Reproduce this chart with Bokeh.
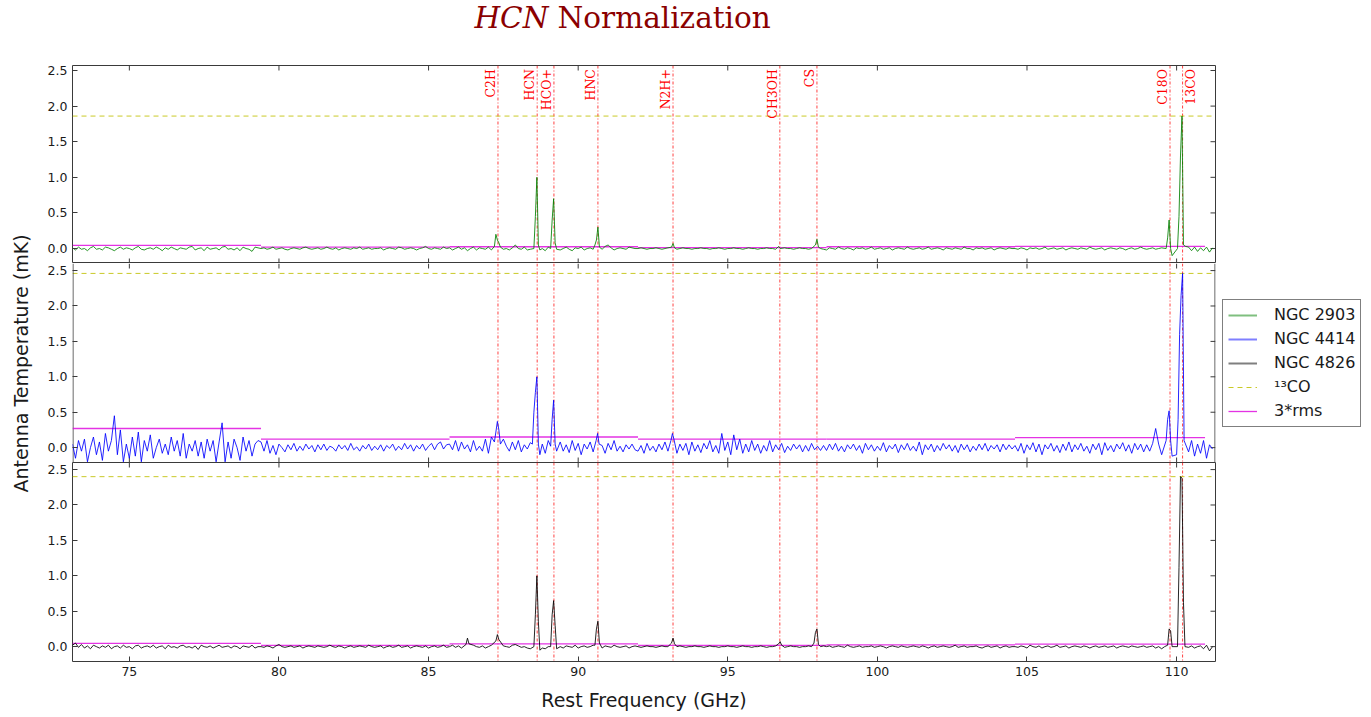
import numpy as np
from bokeh.plotting import figure
from bokeh.layouts import column, row
from bokeh.models import (Span, Legend, LegendItem, FixedTicker, PrintfTickFormatter, Range1d)
from bokeh.embed import file_html
from bokeh.resources import INLINE
from bokeh.core.properties import value

# ---------------- data ----------------
galaxies = ["NGC 2903", "NGC 4414", "NGC 4826"]
colors = ["#008000", "#0000ff", "#000000"]

line_names = ["C2H", "HCN", "HCO+", "HNC", "N2H+", "CH3OH", "CS", "C18O", "13CO"]
line_freqs = [87.32, 88.63, 89.19, 90.66, 93.17, 96.74, 97.98, 109.78, 110.20]
label_side = ["left", "left", "left", "left", "left", "left", "left", "left", "right"]

x_ticks = [75, 80, 85, 90, 95, 100, 105, 110]
y_ticks = [0.0, 0.5, 1.0, 1.5, 2.0, 2.5]

window_start = [73.1, 79.4, 85.7, 92.0, 98.3, 104.6]
window_end = [79.4, 85.7, 92.0, 98.3, 104.6, 110.95]

rms3_2903 = [0.045, 0.02, 0.025, 0.012, 0.025, 0.03]
rms3_4414 = [0.27, 0.12, 0.15, 0.12, 0.12, 0.14]
rms3_4826 = [0.045, 0.018, 0.04, 0.018, 0.025, 0.035]

co13_peak = [1.86, 2.46, 2.40]

# baseline channels (0.1 GHz) from 73.1 to 111.2 GHz
base_2903 = [
    0.01,-0.02,0.02,-0.01,0.00,-0.03,0.01,0.03,-0.01,0.00,
    -0.02,0.02,0.01,-0.01,-0.03,0.00,0.02,-0.01,0.01,0.00,
    -0.02,0.01,0.03,-0.01,-0.02,0.00,0.01,-0.01,0.02,0.00,
    -0.03,0.01,-0.01,0.02,0.00,-0.02,0.01,0.00,-0.01,0.02,
    0.03,-0.02,0.00,0.01,-0.03,0.02,-0.01,0.00,0.01,-0.02,
    0.02,0.03,-0.01,0.00,-0.02,0.01,-0.03,0.02,0.00,-0.01,
    -0.04,0.02,0.01,
    0.00,0.01,-0.01,0.00,0.02,-0.01,0.00,0.01,-0.01,-0.02,
    0.00,0.01,0.00,-0.01,0.01,0.02,0.00,-0.01,0.00,0.01,
    -0.01,0.00,0.02,0.00,-0.01,0.01,-0.02,0.00,0.01,0.00,
    -0.01,0.01,0.00,0.02,-0.01,0.00,0.01,-0.01,0.00,0.00,
    0.01,-0.02,0.00,0.01,0.00,-0.01,0.02,0.01,-0.01,0.00,
    0.01,0.00,-0.02,0.00,0.01,0.03,0.00,-0.01,0.01,0.00,
    -0.01,0.02,0.00,
    0.01,-0.02,0.00,0.02,-0.01,0.01,-0.03,0.00,0.02,-0.02,
    0.01,0.00,-0.01,0.02,-0.02,0.01,0.00,0.03,-0.01,0.00,
    -0.02,0.01,0.05,0.00,-0.01,0.02,-0.02,-0.01,0.00,-0.04,
    0.01,0.00,-0.03,0.02,-0.01,0.00,0.01,-0.02,0.00,0.02,
    -0.01,-0.03,0.01,0.00,0.02,-0.02,0.00,0.01,-0.01,0.02,
    0.00,-0.01,0.03,0.05,0.01,-0.02,0.00,0.01,0.00,-0.01,
    0.02,0.01,0.00,
    0.00,0.01,0.00,-0.01,0.00,0.00,0.01,0.00,-0.01,0.00,
    0.01,0.00,0.00,-0.01,0.00,0.01,0.00,0.00,-0.01,0.00,
    0.00,0.01,0.00,0.00,-0.01,0.00,0.00,0.01,0.00,-0.01,
    0.00,0.00,0.01,0.00,0.00,-0.01,0.00,0.01,0.00,0.00,
    -0.01,0.00,0.00,0.01,0.00,0.00,-0.01,0.00,0.00,0.01,
    0.00,0.00,-0.01,0.00,0.01,0.00,0.00,-0.01,0.00,0.00,
    0.01,0.00,-0.01,
    -0.02,0.01,0.00,-0.01,0.02,0.00,-0.01,0.01,0.00,-0.02,
    0.01,0.00,0.01,-0.01,0.00,0.02,-0.01,0.00,0.01,-0.01,
    0.00,0.01,-0.02,0.00,0.01,0.00,-0.01,0.02,0.00,-0.01,
    0.00,0.01,-0.01,0.00,0.02,-0.01,0.00,0.01,0.00,-0.02,
    0.01,0.00,-0.01,0.01,0.00,-0.01,0.02,0.00,0.00,-0.02,
    0.01,0.00,0.01,-0.01,0.00,0.01,-0.02,0.00,0.01,0.00,
    -0.01,0.01,0.00,
    0.00,-0.01,0.01,0.00,-0.02,0.01,0.00,0.01,-0.01,0.00,
    0.02,-0.01,0.00,0.01,-0.01,0.00,0.01,-0.02,0.00,0.01,
    0.00,-0.01,0.01,0.00,-0.01,0.02,0.00,-0.01,0.00,0.01,
    -0.02,0.00,0.01,0.00,-0.01,0.01,0.00,-0.02,0.00,0.01,
    -0.01,0.00,0.02,0.00,-0.01,0.00,0.01,-0.01,0.00,0.01,
    -0.02,0.00,-0.06,-0.02,-0.05,0.01,-0.03,0.03,0.02,-0.03,
    0.02,-0.04,0.01,-0.03,0.02,-0.05,0.01,
]

base_4414 = [
    0.05,-0.15,0.10,-0.05,0.12,-0.20,0.00,0.15,-0.10,0.08,
    -0.18,0.20,-0.05,0.10,0.45,-0.10,0.25,-0.20,0.05,-0.15,
    0.15,-0.12,0.22,-0.20,0.10,-0.05,0.18,-0.15,0.00,0.12,
    -0.08,0.05,-0.10,0.15,-0.05,0.10,-0.12,0.20,-0.15,0.05,
    -0.05,0.10,-0.12,0.08,-0.15,0.12,-0.05,0.10,-0.20,0.08,
    0.35,-0.20,0.08,-0.15,0.12,0.00,-0.18,0.15,-0.05,0.10,
    -0.12,0.05,0.10,
    0.08,-0.05,0.10,-0.08,0.03,-0.10,0.05,0.00,-0.06,0.04,
    -0.03,0.06,-0.05,0.02,-0.04,0.05,-0.02,0.03,-0.06,0.04,
    -0.03,0.05,-0.04,0.02,0.00,-0.05,0.04,-0.02,0.03,-0.04,
    0.06,-0.03,0.01,-0.05,0.03,-0.02,0.05,-0.04,0.02,-0.03,
    0.04,-0.05,0.03,-0.01,0.05,-0.04,0.02,-0.03,0.06,-0.02,
    0.04,-0.05,0.03,-0.02,0.05,-0.04,0.02,0.06,-0.03,0.05,
    0.08,-0.02,0.04,
    0.05,-0.03,0.10,-0.05,0.08,-0.02,0.04,-0.06,0.10,-0.04,
    0.02,-0.05,0.12,-0.08,0.15,-0.10,0.06,-0.04,0.12,0.02,
    -0.05,0.08,-0.03,0.10,-0.06,0.04,-0.02,0.07,-0.05,0.03,
    -0.12,0.05,-0.08,0.10,-0.03,0.06,-0.10,0.08,-0.05,0.04,
    -0.07,0.10,-0.04,0.06,-0.10,0.05,-0.02,0.08,-0.06,0.12,
    -0.04,0.03,-0.08,0.06,-0.03,0.10,-0.05,0.02,-0.06,0.04,
    -0.02,0.05,-0.03,
    -0.05,0.03,-0.08,0.06,-0.04,0.02,-0.06,0.05,-0.03,0.08,
    -0.05,0.10,0.00,-0.08,0.05,-0.04,0.06,-0.10,0.08,-0.05,
    0.04,-0.07,0.06,-0.02,0.10,-0.06,0.03,-0.08,0.20,-0.04,
    0.08,-0.10,0.18,-0.03,0.12,-0.08,0.05,-0.06,0.10,-0.04,
    0.05,-0.08,0.03,-0.05,0.10,-0.06,0.04,-0.03,0.06,-0.07,
    0.02,-0.04,0.05,-0.02,0.04,-0.06,0.03,-0.05,0.06,-0.03,
    0.02,-0.04,0.03,
    -0.04,0.05,-0.03,0.06,-0.05,0.02,-0.06,0.04,-0.02,0.05,
    -0.04,0.03,-0.08,0.06,-0.03,0.04,-0.05,0.02,-0.04,0.07,
    -0.06,0.03,-0.02,0.05,-0.07,0.04,-0.03,0.06,-0.04,0.02,
    -0.05,0.08,-0.10,0.04,-0.03,0.05,-0.06,0.03,-0.04,0.06,
    -0.02,0.04,-0.05,0.03,-0.07,0.05,-0.03,0.04,-0.06,0.02,
    -0.04,0.05,-0.03,0.06,-0.05,0.03,-0.02,0.04,-0.06,0.05,
    -0.03,0.04,-0.02,
    0.03,-0.05,0.06,-0.08,0.04,-0.03,0.07,-0.06,0.05,-0.10,
    0.04,-0.02,0.06,-0.05,0.03,-0.07,0.05,-0.04,0.08,-0.06,
    0.04,-0.03,0.06,-0.05,0.02,-0.08,0.05,-0.03,0.06,-0.10,
    0.07,-0.04,0.03,-0.06,0.05,-0.02,0.07,-0.05,0.04,-0.08,
    0.06,-0.03,0.05,-0.06,0.04,-0.05,0.06,0.27,0.05,-0.10,
    0.00,0.02,-0.05,-0.15,0.00,0.03,-0.08,0.08,-0.06,0.10,
    -0.12,0.05,-0.08,0.10,-0.15,0.04,-0.02,
]

base_4826 = [
    0.02,0.05,-0.01,0.03,-0.02,0.01,-0.03,0.02,0.00,-0.02,
    0.01,-0.01,0.02,-0.03,0.00,0.01,-0.02,0.02,-0.01,0.00,
    -0.03,0.01,0.02,-0.02,0.00,0.01,-0.01,0.02,-0.02,0.00,
    0.01,-0.03,0.02,-0.01,0.00,-0.02,0.01,0.02,-0.01,0.00,
    -0.02,0.01,-0.04,0.02,0.00,-0.01,0.01,-0.02,0.00,0.02,
    -0.01,0.00,0.01,-0.02,0.01,0.00,-0.03,0.01,0.00,-0.01,
    0.02,-0.02,0.00,
    0.00,-0.01,0.01,0.00,-0.02,0.01,0.03,0.00,-0.01,0.00,
    0.01,-0.01,0.00,0.01,-0.02,0.00,0.01,0.00,-0.01,0.01,
    0.00,-0.01,0.00,0.02,0.00,-0.01,0.01,0.00,-0.02,0.00,
    0.01,-0.01,0.00,0.01,0.00,-0.01,0.02,0.00,-0.01,0.00,
    0.01,-0.02,0.00,0.01,-0.01,0.00,0.02,-0.01,0.00,0.01,
    -0.02,0.00,0.01,0.00,-0.01,0.01,-0.02,0.00,0.01,-0.01,
    0.00,0.02,-0.01,
    0.00,0.02,-0.01,0.01,-0.02,0.00,0.01,-0.03,0.02,0.00,
    -0.01,0.01,-0.02,0.00,0.02,-0.01,0.00,-0.02,0.01,0.00,
    -0.01,0.02,0.03,0.01,-0.01,0.00,-0.02,-0.03,0.00,-0.04,
    0.01,-0.02,-0.03,0.00,0.01,-0.02,0.01,0.00,-0.02,0.01,
    0.00,-0.01,0.02,-0.02,0.00,0.01,-0.01,0.00,0.02,-0.01,
    0.00,-0.02,0.01,0.00,-0.01,0.02,0.00,-0.01,0.00,0.01,
    -0.02,0.00,0.01,
    0.00,-0.01,0.00,0.01,0.00,0.00,-0.01,0.00,0.01,0.00,
    0.00,-0.01,0.00,0.00,0.01,0.00,-0.01,0.00,0.00,0.01,
    0.00,0.00,-0.01,0.00,0.01,0.00,0.00,-0.01,0.00,0.00,
    0.01,0.00,0.00,-0.01,0.00,0.01,0.00,0.00,-0.01,0.00,
    0.00,0.01,0.00,-0.01,0.00,0.00,0.01,0.00,0.00,-0.01,
    0.00,0.01,0.00,0.00,-0.01,0.00,0.00,0.01,0.00,-0.01,
    0.00,0.00,0.01,
    0.00,0.01,-0.01,0.00,0.01,0.00,-0.01,0.02,0.00,-0.01,
    0.00,0.01,-0.01,0.00,0.00,0.01,-0.01,0.00,0.01,0.00,
    -0.02,0.00,0.01,0.00,-0.01,0.01,0.00,-0.01,0.00,0.01,
    0.00,-0.01,0.01,0.00,-0.02,0.00,0.01,-0.01,0.00,0.01,
    0.00,-0.01,0.00,0.02,-0.01,0.00,0.01,-0.01,0.00,0.00,
    0.01,-0.01,-0.02,0.00,0.01,-0.01,0.00,0.01,-0.02,0.00,
    0.01,-0.01,0.00,
    0.00,-0.01,0.01,0.00,-0.02,0.02,0.00,-0.01,0.01,-0.02,
    0.00,0.01,-0.01,0.00,0.02,-0.01,0.00,0.01,-0.02,0.00,
    0.01,0.00,-0.01,0.01,0.00,-0.02,0.00,0.01,-0.01,0.00,
    0.01,-0.01,0.00,0.01,-0.02,0.00,0.01,0.00,-0.01,0.01,
    0.00,-0.01,0.00,0.01,-0.01,0.00,0.01,-0.02,0.00,-0.03,
    0.00,0.00,0.00,-0.03,0.00,0.00,0.00,0.00,-0.01,0.01,
    -0.02,0.00,0.01,-0.03,0.02,-0.06,0.00,
]

# line-emission channels (frequency, value)
pk_f_2903 = [87.20,87.25,87.30,87.35,87.40, 88.52,88.57,88.62,88.67,88.72,
             89.08,89.13,89.18,89.23,89.28, 90.56,90.61,90.66,90.71,
             93.12,93.17,93.22, 96.70,96.75, 97.93,97.98,98.03,
             109.65,109.70,109.75,109.80,109.85, 110.03,110.08,110.13,110.18,110.23]
pk_v_2903 = [0.03,0.20,0.12,0.08,0.02, 0.00,0.45,1.00,0.05,-0.02,
             0.00,0.40,0.70,0.08,-0.01, 0.05,0.12,0.30,0.02,
             0.02,0.07,0.01, 0.03,0.00, 0.05,0.13,0.02,
             0.00,0.15,0.40,0.00,-0.10, 0.00,0.45,1.30,1.86,0.05]

pk_f_4414 = [87.20,87.25,87.30,87.35,87.40, 88.47,88.52,88.57,88.62,88.67,88.72,
             89.08,89.13,89.18,89.23,89.28, 90.60,90.65,90.70, 93.10,93.15,93.20,
             109.65,109.70,109.75,109.80,109.85, 110.00,110.05,110.10,110.15,110.20,110.25]
pk_v_4414 = [0.08,0.22,0.37,0.25,0.05, 0.05,0.50,0.78,1.00,0.05,-0.10,
             0.02,0.40,0.67,0.05,-0.05, 0.10,0.20,0.05, 0.10,0.20,0.12,
             0.10,0.40,0.52,0.10,-0.12, -0.10,0.40,1.60,2.15,2.46,0.10]

pk_f_4826 = [86.25,86.30,86.35, 87.25,87.30,87.35, 88.52,88.57,88.62,88.67,88.72,
             89.08,89.13,89.18,89.23,89.28, 90.56,90.61,90.66,90.71,
             93.12,93.17,93.22, 96.70,96.75,96.80, 97.88,97.93,97.98,98.03,
             109.70,109.75,109.80,109.85, 110.03,110.08,110.13,110.18,110.23,110.28]
pk_v_4826 = [0.03,0.12,0.04, 0.08,0.17,0.10, 0.00,0.45,1.00,0.35,-0.05,
             0.00,0.45,0.65,0.30,-0.03, 0.02,0.25,0.36,0.05,
             0.05,0.12,0.04, 0.04,0.07,0.02, 0.05,0.20,0.25,0.03,
             0.02,0.25,0.22,0.00, 0.00,1.12,2.40,2.38,0.62,0.00]

spectra_base = [base_2903, base_4414, base_4826]
spectra_pk_f = [pk_f_2903, pk_f_4414, pk_f_4826]
spectra_pk_v = [pk_v_2903, pk_v_4414, pk_v_4826]
rms_all = [rms3_2903, rms3_4414, rms3_4826]


def build_spectrum(base, pk_f, pk_v):
    x = np.linspace(73.1, 111.2, len(base))
    pf = np.array(pk_f)
    keep = np.min(np.abs(x[:, None] - pf[None, :]), axis=1) > 0.06
    xs = np.concatenate([x[keep], pf])
    ys = np.concatenate([np.array(base)[keep], np.array(pk_v)])
    order = np.argsort(xs)
    return xs[order], ys[order]


# ---------------- layout constants ----------------
FONT = "DejaVu Sans"
TXT = "#1a1a1a"
EDGE = "#3a3a3a"
X0, X1 = 73.1, 111.3
FRAME_W = 1143
LAB_W = 42
TOP_PAD = 8
xr = Range1d(X0, X1)


def blank_fig(w, h, xrange, yrange):
    f = figure(width=w, height=h, x_range=Range1d(*xrange), y_range=Range1d(*yrange),
               output_backend="svg", toolbar_location=None, min_border=0,
               x_axis_location=None, y_axis_location=None, outline_line_color=None)
    f.grid.visible = False
    return f


# title strip (pixel coordinates, y downward)
title_h = 65 - TOP_PAD
title_fig = blank_fig(1371, title_h, (0, 1371), (title_h, 0))
title_fig.text(x=[548], y=[17], text=["HCN"], text_align="right", text_baseline="alphabetic",
               text_font=value("DejaVu Serif"), text_font_style="italic",
               text_font_size=value("29.5px"), text_color="#8b0000")
title_fig.text(x=[557], y=[17], text=["Normalization"], text_align="left",
               text_baseline="alphabetic", text_font=value("DejaVu Serif"),
               text_font_size=value("29.5px"), text_color="#8b0000")

# y-axis label strip
lab_fig = blank_fig(LAB_W, 597 + TOP_PAD, (0, LAB_W), (597 + TOP_PAD, 0))
lab_fig.text(x=[20], y=[298 + TOP_PAD], text=["Antenna Temperature (mK)"], angle=np.pi / 2,
             text_align="center", text_baseline="middle", text_font=value(FONT),
             text_font_size=value("19px"), text_color=TXT)

panels = []
frame_heights = [198, 199, 199]
ymaxes = [2.57, 2.6, 2.6]
YMIN = -0.21

for i in range(3):
    last = (i == 2)
    middle = (i == 1)
    p = figure(frame_width=FRAME_W, frame_height=frame_heights[i], x_range=xr,
               y_range=Range1d(YMIN, ymaxes[i]), output_backend="svg",
               toolbar_location=None, min_border=0, min_border_left=72 - LAB_W,
               min_border_right=156, min_border_bottom=(55 if last else 0),
               min_border_top=(TOP_PAD if i == 0 else 0),
               x_axis_location=("below" if last else None))
    p.grid.visible = False
    p.background_fill_color = "white"
    p.border_fill_color = "white"

    axes = list(p.yaxis) + (list(p.xaxis) if last else [])
    for ax in axes:
        ax.major_tick_in = 5
        ax.major_tick_out = 0
        ax.minor_tick_in = 0
        ax.minor_tick_out = 0
        ax.axis_line_color = None
        ax.major_tick_line_color = EDGE
        ax.major_label_text_font = FONT
        ax.major_label_text_font_size = "12.5px"
        ax.major_label_text_color = TXT
        ax.major_label_standoff = 5
    p.yaxis.ticker = FixedTicker(ticks=y_ticks)
    p.yaxis.formatter = PrintfTickFormatter(format="%.1f")

    hx = 0.5 * (X1 - X0) / FRAME_W
    if middle:
        # only side edges here; top/bottom edges come from the neighbouring panels
        p.outline_line_color = None
        p.segment(x0=[X0 + hx, X1 - hx], x1=[X0 + hx, X1 - hx],
                  y0=[YMIN, YMIN], y1=[ymaxes[i], ymaxes[i]],
                  line_color=EDGE, line_width=1)
    else:
        p.outline_line_color = EDGE
        p.outline_line_width = 1

    if last:
        p.xaxis.ticker = FixedTicker(ticks=x_ticks)
        p.xaxis.axis_label = "Rest Frequency (GHz)"
        p.xaxis.axis_label_text_font = FONT
        p.xaxis.axis_label_text_font_style = "normal"
        p.xaxis.axis_label_text_font_size = "19px"
        p.xaxis.axis_label_text_color = TXT
        p.xaxis.axis_label_standoff = 10

    # inward ticks on the other frame edges
    ty = 5.0 * (ymaxes[i] - YMIN) / frame_heights[i]
    tx = 5.0 * (X1 - X0) / FRAME_W
    nx, ny = len(x_ticks), len(y_ticks)
    p.segment(x0=x_ticks, x1=x_ticks, y0=[ymaxes[i]] * nx, y1=[ymaxes[i] - ty] * nx,
              line_color=EDGE, line_width=1)
    if not last:
        p.segment(x0=x_ticks, x1=x_ticks, y0=[YMIN] * nx, y1=[YMIN + ty] * nx,
                  line_color=EDGE, line_width=1)
    p.segment(x0=[X1] * ny, x1=[X1 - tx] * ny, y0=y_ticks, y1=y_ticks,
              line_color=EDGE, line_width=1)

    # molecular line markers
    for f in line_freqs:
        p.add_layout(Span(location=f, dimension="height", line_color="red",
                          line_alpha=0.75, line_width=1, line_dash="3 2 1 2",
                          level="underlay"))
    # 13CO peak level
    p.add_layout(Span(location=co13_peak[i], dimension="width", line_color="#bfbf00",
                      line_alpha=0.85, line_width=1, line_dash="5 4", level="underlay"))
    # 3*rms per spectral window
    p.segment(x0=window_start, x1=window_end, y0=rms_all[i], y1=rms_all[i],
              line_color="#dd00dd", line_alpha=0.8, line_width=1.3)
    # spectrum
    sx, sy = build_spectrum(spectra_base[i], spectra_pk_f[i], spectra_pk_v[i])
    p.line(sx, sy, line_color=colors[i], line_width=1, line_alpha=0.85)
    panels.append(p)

p1, p2, p3 = panels

# line labels in top panel
label_y = 2.52
for side, baseline in (("left", "bottom"), ("right", "top")):
    fx = [f for f, s in zip(line_freqs, label_side) if s == side]
    nm = [n for n, s in zip(line_names, label_side) if s == side]
    p1.text(x=fx, y=[label_y] * len(fx), text=nm, angle=np.pi / 2,
            text_align="right", text_baseline=baseline, text_color="red",
            text_font=value("DejaVu Serif"), text_font_size=value("12.5px"))

# legend (proxy renderers without visible data) beside the middle panel
nan_x, nan_y = [np.nan], [np.nan]
leg_g = p2.line(x=nan_x, y=nan_y, line_color="#008000", line_alpha=0.5, line_width=2)
leg_b = p2.line(x=nan_x, y=nan_y, line_color="#0000ff", line_alpha=0.5, line_width=2)
leg_k = p2.line(x=nan_x, y=nan_y, line_color="#000000", line_alpha=0.5, line_width=2)
leg_y = p2.line(x=nan_x, y=nan_y, line_color="#bfbf00", line_alpha=0.85, line_width=1,
                line_dash="5 4")
leg_m = p2.line(x=nan_x, y=nan_y, line_color="#dd00dd", line_alpha=0.8, line_width=1.3)
legend = Legend(items=[LegendItem(label=galaxies[0], renderers=[leg_g]),
                       LegendItem(label=galaxies[1], renderers=[leg_b]),
                       LegendItem(label=galaxies[2], renderers=[leg_k]),
                       LegendItem(label="¹³CO", renderers=[leg_y]),
                       LegendItem(label="3*rms", renderers=[leg_m])],
                location="center_left", padding=5, spacing=4, margin=7,
                glyph_width=29, glyph_height=20, label_height=20, label_standoff=17,
                label_text_font=FONT, label_text_font_size="16px", label_text_color=TXT,
                border_line_color="black", border_line_width=1,
                background_fill_color="white", background_fill_alpha=1.0)
p2.add_layout(legend, "right")

layout = column(title_fig, row(lab_fig, column(p1, p2, p3, spacing=0), spacing=0), spacing=0)
open("out.html", "w").write(file_html(layout, INLINE))
